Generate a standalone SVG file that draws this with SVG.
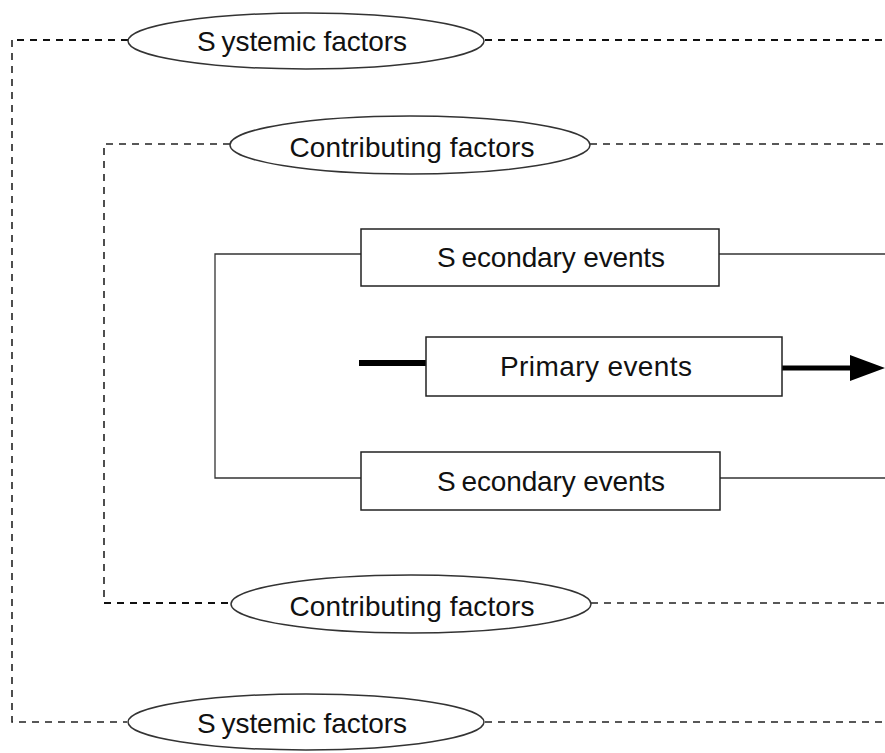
<svg xmlns="http://www.w3.org/2000/svg" width="885" height="753" viewBox="0 0 885 753">
  <style>
    .bg { fill: #ffffff; }
    .oval { fill: #ffffff; stroke: #333333; stroke-width: 1.5; }
    .box { fill: #ffffff; stroke: #222222; stroke-width: 1.5; }
    .label { font-family: "Liberation Sans Narrow", "Liberation Sans", Arial, sans-serif; font-size: 28px; fill: #111111; text-anchor: middle; }
    .dash { fill: none; stroke: #222222; stroke-width: 1.6; stroke-dasharray: 7 6; }
    .dash-strong { fill: none; stroke: #111111; stroke-width: 2; stroke-dasharray: 7 6; }
    .link { fill: none; stroke: #333333; stroke-width: 1.3; }
    .flow { fill: none; stroke: #000000; stroke-linecap: butt; }
  </style>

  <rect class="bg" x="0" y="0" width="885" height="753"/>

  <!-- dashed boundaries and solid links between the event boxes -->
  <g id="connectors">
    <!-- outer systemic boundary -->
    <polyline class="dash-strong" points="128,40 12,40"/>
    <polyline class="dash" points="12,40 12,722 127,722"/>
    <line class="dash-strong" x1="485" y1="40" x2="885" y2="40"/>
    <line class="dash" x1="485" y1="722" x2="885" y2="722"/>
    <!-- inner contributing boundary -->
    <polyline class="dash" points="230,144 104,144 104,603"/>
    <line class="dash-strong" x1="104" y1="603" x2="231" y2="603"/>
    <line class="dash" x1="590" y1="144" x2="885" y2="144"/>
    <line class="dash" x1="591" y1="603" x2="885" y2="603"/>
    <!-- bracket joining the secondary events -->
    <polyline class="link" points="361,254 215,254 215,478 361,478"/>
    <line class="link" x1="719" y1="254" x2="885" y2="254"/>
    <line class="link" x1="720" y1="478" x2="885" y2="478"/>
    <!-- primary event flow -->
    <line class="flow" x1="359" y1="363" x2="426" y2="363" stroke-width="6" stroke-linecap="round"/>
    <line class="flow" x1="782" y1="368" x2="851" y2="368" stroke-width="5"/>
    <polygon points="850,355 885,368 850,381" fill="#000000"/>
  </g>

  <g id="systemic-top">
    <ellipse class="oval" cx="306" cy="41" rx="178" ry="28"/>
    <text class="label" x="302" y="51" textLength="210" lengthAdjust="spacing">S<tspan dx="6">ystemic factors</tspan></text>
  </g>

  <g id="contributing-top">
    <ellipse class="oval" cx="410" cy="145" rx="180" ry="29"/>
    <text class="label" x="412" y="157" textLength="245" lengthAdjust="spacing">Contributing factors</text>
  </g>

  <g id="secondary-top">
    <rect class="box" x="361" y="229" width="358" height="57"/>
    <text class="label" x="551" y="267" textLength="228" lengthAdjust="spacing">S<tspan dx="6">econdary events</tspan></text>
  </g>

  <g id="primary">
    <rect class="box" x="426" y="337" width="356" height="59"/>
    <text class="label" x="596" y="376" textLength="192" lengthAdjust="spacing">Primary events</text>
  </g>

  <g id="secondary-bottom">
    <rect class="box" x="361" y="452" width="359" height="58"/>
    <text class="label" x="551" y="491" textLength="228" lengthAdjust="spacing">S<tspan dx="6">econdary events</tspan></text>
  </g>

  <g id="contributing-bottom">
    <ellipse class="oval" cx="411" cy="604" rx="180" ry="29"/>
    <text class="label" x="412" y="616" textLength="245" lengthAdjust="spacing">Contributing factors</text>
  </g>

  <g id="systemic-bottom">
    <ellipse class="oval" cx="306" cy="722" rx="178" ry="28"/>
    <text class="label" x="302" y="733" textLength="210" lengthAdjust="spacing">S<tspan dx="6">ystemic factors</tspan></text>
  </g>
</svg>
